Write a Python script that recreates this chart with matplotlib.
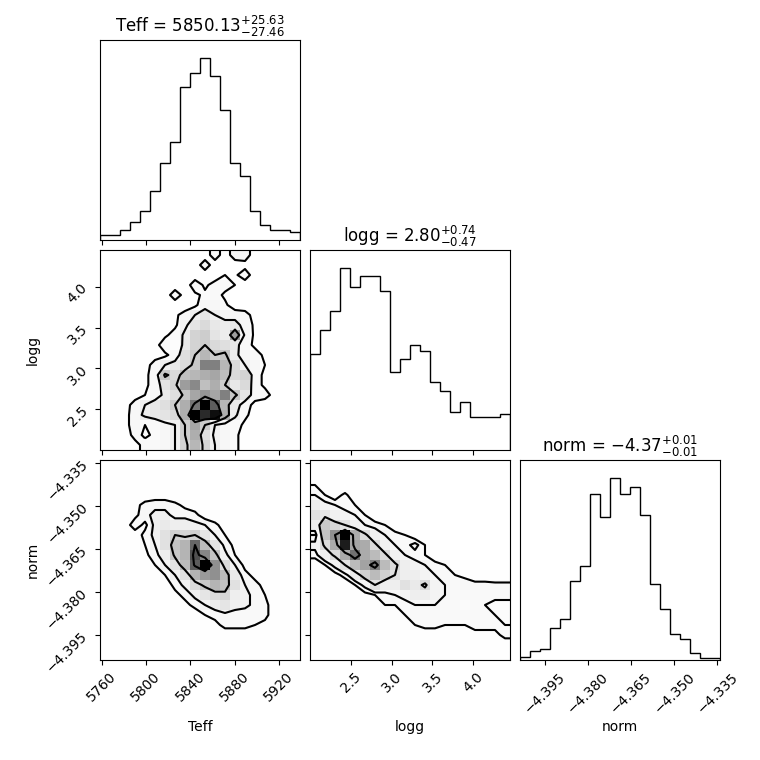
import numpy as np
import matplotlib
matplotlib.use("Agg")
import matplotlib.pyplot as plt
from matplotlib.colors import LinearSegmentedColormap

labels = ["Teff", "logg", "norm"]
titles = [r"Teff = $5850.13_{-27.46}^{+25.63}$",
          r"logg = $2.80_{-0.47}^{+0.74}$",
          r"norm = $-4.37_{-0.01}^{+0.01}$"]
ranges = [(5758.6, 5939.1), (2.0, 4.45), (-4.4037, -4.3341)]
ticks = [[5760, 5800, 5840, 5880, 5920],
         [2.5, 3.0, 3.5, 4.0],
         [-4.395, -4.380, -4.365, -4.350, -4.335]]

# 1D histograms (20 bins each)
teff_counts = [14, 14, 30, 55, 87, 148, 230, 293, 458, 502, 545, 492, 390, 230, 192, 87, 46, 30, 30, 24]
logg_counts = [287, 360, 418, 545, 488, 523, 523, 478, 235, 272, 314, 298, 205, 178, 113, 143, 98, 98, 98, 109]
norm_counts = [10, 28, 32, 95, 122, 237, 282, 498, 428, 545, 498, 518, 434, 227, 152, 78, 62, 20, 5, 5]

# 2D histograms, 20x20, one string per row (top row first), base-36 digits
teff_logg = ["11111111111717711111",
             "11111111117111211111",
             "11111111111143711111",
             "11111111173664111111",
             "11111117235631111111",
             "11111111137751111111",
             "1111111369c987621111",
             "111111138cebab731111",
             "11111136afgcam831111",
             "11111274bfgedb631111",
             "11111236dgjgha763111",
             "1111269behppje974111",
             "111136heijklief63111",
             "111136cfmoikgbe63111",
             "111247adhlnlphc76211",
             "11269bdgkqzsjb721111",
             "1127abcekzwyka521111",
             "11274689glg976311111",
             "11163579gkd875211111",
             "11126679fjf975211111"]

teff_norm = ["00000000000000000000",
             "01101100000000000000",
             "11121111100000000000",
             "01222221110000000000",
             "01235665321000000000",
             "01236886652100000000",
             "012638a9987521000000",
             "011258cfefb742100000",
             "001247chjrib63100000",
             "0011369gjtoh84210000",
             "0001247cisznd7321000",
             "00001247cjmnia532100",
             "000001258dgjhc753100",
             "0000001358bde9864210",
             "000000013579b8865210",
             "00000000124566555210",
             "00000000012355543110",
             "00000000001122222111",
             "00000000000001011111",
             "00000000000000010111"]

logg_norm = ["10000000000000000000",
             "31000000000000000000",
             "42100000000000000000",
             "64251000000000000000",
             "97654210000000000000",
             "cb876421000000000000",
             "9gec8654210000000000",
             "4hnzkd86542100000000",
             "7dkxlkd8657421000000",
             "59dkqkid865421100000",
             "247cilpid97654211000",
             "12359fifc99765432211",
             "011247c99cad76565555",
             "00112345679976555555",
             "00011234456665545433",
             "00001122345555555544",
             "00000111234554445554",
             "00000011122222323335",
             "00000000111121121222",
             "00000000001011011111"]


def to_hist(rows):
    # rows are top->bottom; return H[x, y] like numpy histogram2d
    g = np.array([[int(c, 36) for c in r] for r in rows], dtype=float)
    return g[::-1].T


def hist2d(ax, H, xr, yr):
    X = np.linspace(xr[0], xr[1], H.shape[0] + 1)
    Y = np.linspace(yr[0], yr[1], H.shape[1] + 1)

    # contour levels that enclose given fractions of the mass
    levels = 1.0 - np.exp(-0.5 * np.arange(0.5, 2.1, 0.5) ** 2)
    Hflat = np.sort(H.flatten())[::-1]
    sm = np.cumsum(Hflat)
    sm /= sm[-1]
    V = np.empty(len(levels))
    for i, v0 in enumerate(levels):
        try:
            V[i] = Hflat[sm <= v0][-1]
        except IndexError:
            V[i] = Hflat[0]
    V.sort()
    m = np.diff(V) == 0
    while np.any(m):
        V[np.where(m)[0][0]] *= 1.0 - 1e-4
        m = np.diff(V) == 0
    V.sort()

    # padded grid on bin centres for the contours
    X1, Y1 = 0.5 * (X[1:] + X[:-1]), 0.5 * (Y[1:] + Y[:-1])
    H2 = H.min() + np.zeros((H.shape[0] + 4, H.shape[1] + 4))
    H2[2:-2, 2:-2] = H
    H2[2:-2, 1] = H[:, 0]
    H2[2:-2, -2] = H[:, -1]
    H2[1, 2:-2] = H[0]
    H2[-2, 2:-2] = H[-1]
    H2[1, 1] = H[0, 0]
    H2[1, -2] = H[0, -1]
    H2[-2, 1] = H[-1, 0]
    H2[-2, -2] = H[-1, -1]
    X2 = np.concatenate([X1[0] + np.array([-2, -1]) * np.diff(X1[:2]), X1,
                         X1[-1] + np.array([1, 2]) * np.diff(X1[-2:])])
    Y2 = np.concatenate([Y1[0] + np.array([-2, -1]) * np.diff(Y1[:2]), Y1,
                         Y1[-1] + np.array([1, 2]) * np.diff(Y1[-2:])])

    density_cmap = LinearSegmentedColormap.from_list("density_cmap", ["k", (1, 1, 1, 0)])
    ax.pcolor(X, Y, H.max() - H.T, cmap=density_cmap)
    ax.contour(X2, Y2, H2.T, V, colors="k")
    ax.set_xlim(xr)
    ax.set_ylim(yr)


counts = [teff_counts, logg_counts, norm_counts]
pairs = {(1, 0): teff_logg, (2, 0): teff_norm, (2, 1): logg_norm}

fig, axes = plt.subplots(3, 3, figsize=(7.6, 7.6), dpi=100)
fig.subplots_adjust(left=1 / 7.6, bottom=1 / 7.6, right=7.2 / 7.6, top=7.2 / 7.6,
                    wspace=0.05, hspace=0.05)

for i in range(3):
    for j in range(3):
        ax = axes[i, j]
        if j > i:
            ax.set_frame_on(False)
            ax.set_xticks([])
            ax.set_yticks([])
            continue
        if i == j:
            edges = np.linspace(ranges[i][0], ranges[i][1], len(counts[i]) + 1)
            ax.hist(edges[:-1], bins=edges, weights=counts[i], histtype="step", color="k")
            ax.set_xlim(ranges[i])
            ax.set_ylim(0, 1.1 * max(counts[i]))
            ax.set_yticks([])
            ax.set_title(titles[i])
        else:
            hist2d(ax, to_hist(pairs[(i, j)]), ranges[j], ranges[i])
            ax.set_yticks(ticks[i])
            if j == 0:
                for l in ax.get_yticklabels():
                    l.set_rotation(45)
                ax.set_ylabel(labels[i])
                ax.yaxis.set_label_coords(-0.3, 0.5)
            else:
                ax.set_yticklabels([])
        ax.set_xticks(ticks[j])
        if i < 2:
            ax.set_xticklabels([])
        else:
            for l in ax.get_xticklabels():
                l.set_rotation(45)
            ax.set_xlabel(labels[j])
            ax.xaxis.set_label_coords(0.5, -0.3)

fig.savefig("out.png", dpi=100)
